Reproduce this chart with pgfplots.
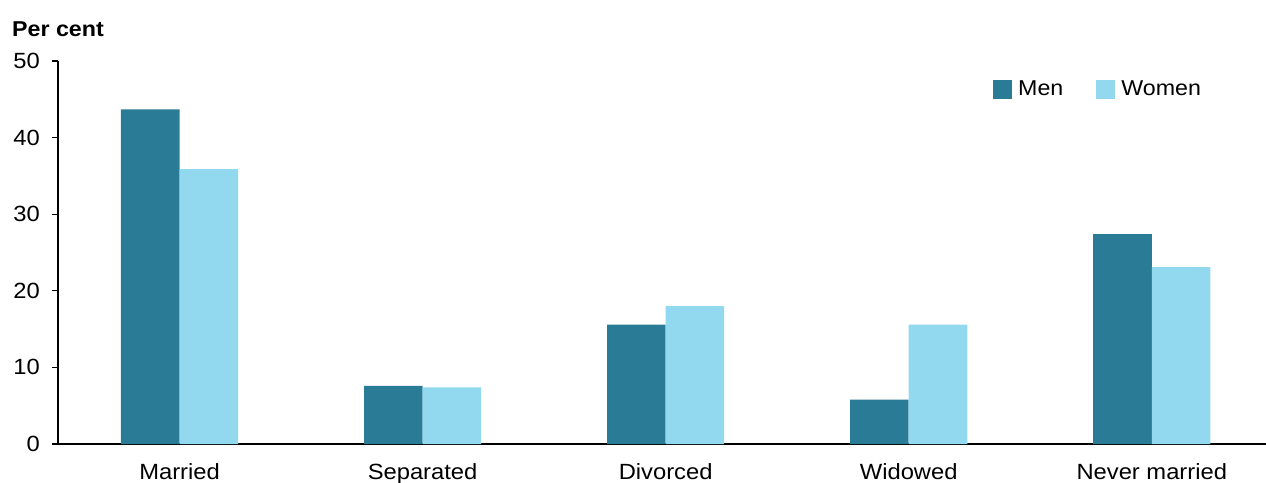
\documentclass[border=0pt]{standalone}
\usepackage{fontspec}
\setmainfont{Liberation Sans}[FakeStretch=1.08]
\usepackage{pgfplots}
\pgfplotsset{compat=1.18}

\definecolor{menblue}{RGB}{42,124,150}
\definecolor{womenblue}{RGB}{146,216,239}

\begin{document}
\begin{tikzpicture}
\begin{axis}[
  at={(0,0)}, anchor=south west,
  scale only axis,
  width=1208pt, height=383pt,
  xmin=-0.5, xmax=4.47,
  ymin=0, ymax=50,
  axis x line=bottom, axis y line=left,
  axis line style={black, line width=1.1pt, -},
  xtick=data,
  xticklabels={Married, Separated, Divorced, Widowed, Never married},
  x tick style={draw=none},
  ytick={0,10,20,30,40,50},
  y tick style={black, line width=1.1pt},
  tick align=outside,
  major tick length=6pt,
  /pgf/number format/assume math mode=true,
  tick label style={font=\fontsize{22}{26}\selectfont, text=black},
  xticklabel style={inner sep=0pt, anchor=north, yshift=-13pt},
  yticklabel style={inner sep=0pt, anchor=east, xshift=-12pt},
  bar width=0.241,
  ybar=0pt,
  legend style={
    at={(0.774,0.953)}, anchor=north west,
    draw=none, fill=none, inner sep=0pt,
    legend columns=2,
    font=\fontsize{21.5}{26}\selectfont,
    /tikz/every odd column/.append style={column sep=4pt},
    /tikz/every even column/.append style={column sep=31pt},
  },
  legend cell align=left,
  legend image code/.code={\fill[#1] (0pt,-9.5pt) rectangle (19pt,9.5pt);},
]
\addplot[fill=menblue, draw=none, bar shift=-0.1205] coordinates
  {(0,43.7) (1,7.6) (2,15.6) (3,5.8) (4,27.4)};
\addplot[fill=womenblue, draw=none, bar shift=0.1205] coordinates
  {(0,35.9) (1,7.4) (2,18.0) (3,15.6) (4,23.1)};
\legend{Men, Women}
\end{axis}
\node[anchor=base west, inner sep=0pt, font=\fontsize{21.5}{25}\selectfont\bfseries]
  at (-46pt,407pt) {Per cent};
\pgfresetboundingbox
\useasboundingbox (-58pt,-38pt) rectangle (1208pt,444pt);
\end{tikzpicture}
\end{document}
